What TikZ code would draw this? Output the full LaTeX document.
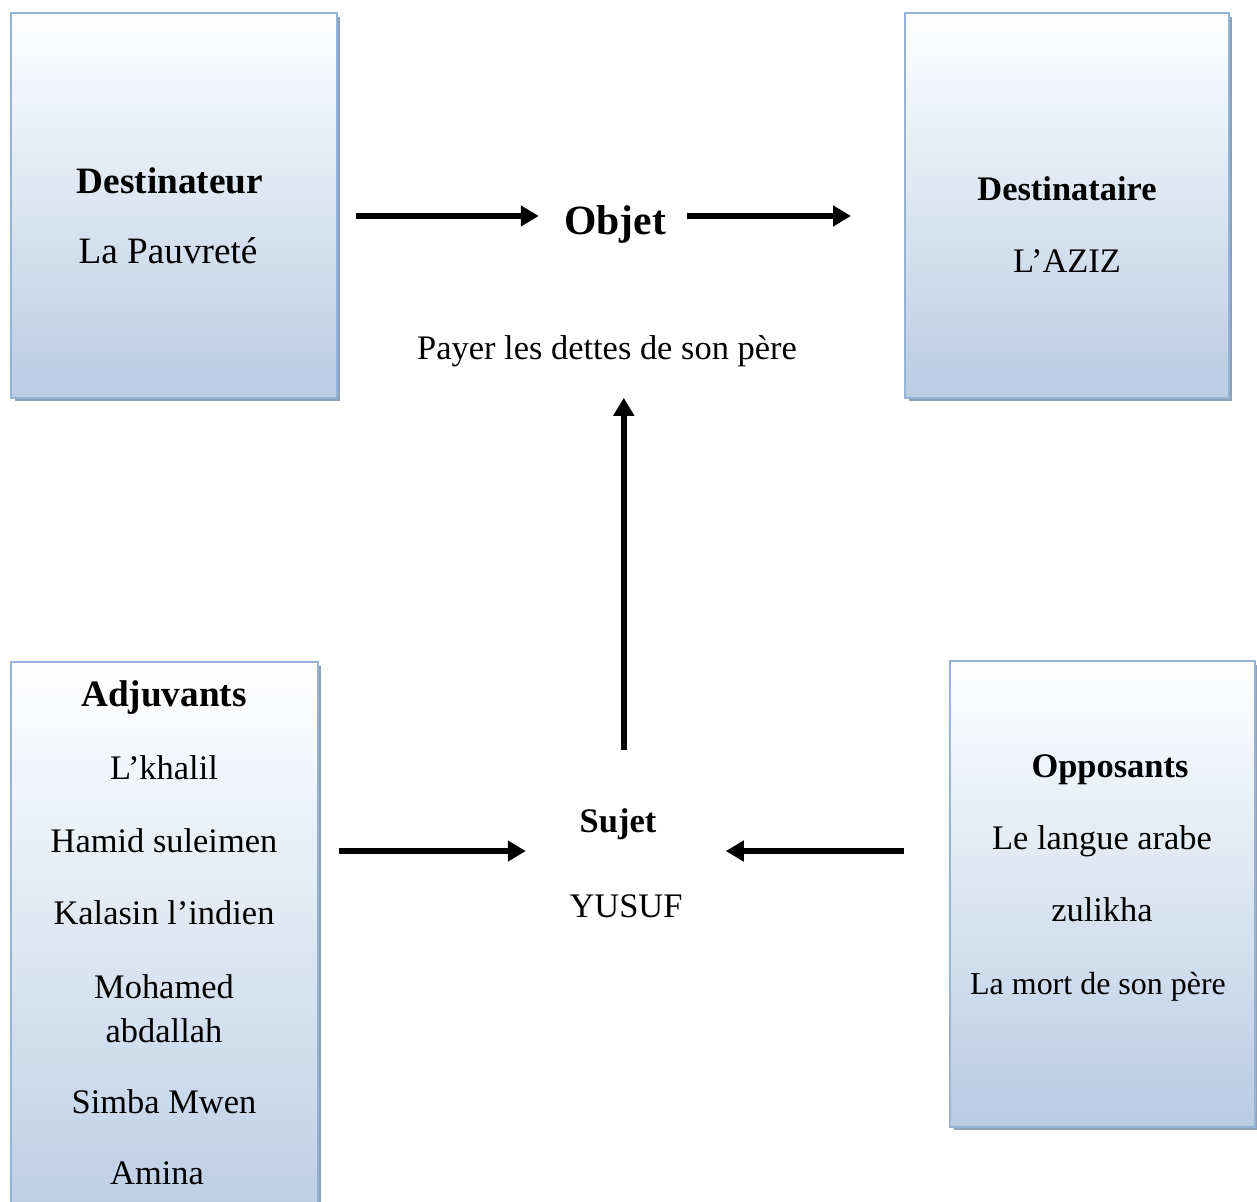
\documentclass[tikz,border=0pt]{standalone}
\usepackage{fontspec}
\setmainfont{Liberation Serif}
\usetikzlibrary{arrows.meta}
\usetikzlibrary{calc}
\usetikzlibrary{shadows}
\definecolor{asborder}{HTML}{95B3D7}
\definecolor{asfill}{HTML}{B8CCE4}
\definecolor{asshadow}{HTML}{8E9FB6}
\definecolor{asink}{HTML}{000000}
\tikzset{
  asbox/.style={
    draw=asborder, line width=1.2pt, top color=white, bottom color=asfill,
    inner sep=0pt,
    drop shadow={shadow xshift=0.07cm, shadow yshift=-0.07cm,
      fill=asshadow, opacity=1}},
  astext/.style={anchor=base, inner sep=0pt, text=asink,
    font=\fontsize{19.6}{23}\selectfont},
  ashead/.style={astext, font=\fontsize{19.6}{23}\selectfont\bfseries},
  asbig/.style={astext, font=\fontsize{21.2}{25}\selectfont},
  asarrow/.style={-{Triangle[length=0.36cm, width=0.4cm]}, draw=asink,
    line width=0.11cm},
}

\begin{document}
\begin{tikzpicture}[x=0.02cm, y=-0.02cm]
\useasboundingbox (0, 0) rectangle (1257, 1202);
\clip (0, 0) rectangle (1257, 1202);

% Sender box.
\node[asbox, minimum width=6.52cm, minimum height=7.7cm]
  (dest) at (174, 205.5) {};
\node[asbig, font=\fontsize{21.2}{25}\selectfont\bfseries]
  (destlbl) at (170, 194) {Destinateur};
\node[asbig] (destval) at (168, 264) {La Pauvreté};

% Object in the middle.
\node[astext, font=\fontsize{23.7}{28}\selectfont\bfseries]
  (objet) at (615, 235) {Objet};
\node[astext] (payer) at (607, 360) {Payer les dettes de son père};
\coordinate (objlink) at ($(objet.center)+(0, -9)$);

% Receiver box.
\node[asbox, minimum width=6.48cm, minimum height=7.7cm]
  (destin) at (1067, 205.5) {};
\node[ashead] (destinlbl) at (1067, 201) {Destinataire};
\node[astext] (destinval) at (1067, 273) {L’AZIZ};

% Helpers.
\node[asbox, minimum width=6.14cm, minimum height=11.8cm]
  (adj) at (164.5, 957) {};
\node[asbig, font=\fontsize{21.2}{25}\selectfont\bfseries]
  (adjlbl) at (164, 706) {Adjuvants};
\node[astext] (adj1) at (164, 779) {L’khalil};
\node[astext] (adj2) at (164, 852) {Hamid suleimen};
\node[astext] (adj3) at (164, 924) {Kalasin l’indien};
\node[astext] (adj4) at (164, 998) {Mohamed};
\node[astext] (adj5) at (164, 1042) {abdallah};
\node[astext] (adj6) at (164, 1113) {Simba Mwen};
\node[astext] (adj7) at (157, 1184) {Amina};

% Subject.
\node[ashead] (sujet) at (618, 832) {Sujet};
\node[astext] (yusuf) at (626, 917) {YUSUF};
\coordinate (sujetlink) at ($(sujet.base)!0.224!(yusuf.base)+(4, 0)$);

% Opponents.
\node[asbox, minimum width=6.1cm, minimum height=9.32cm]
  (opp) at (1102.5, 894) {};
\node[ashead] (opplbl) at (1110, 777) {Opposants};
\node[astext] (opp1) at (1102, 849) {Le langue arabe};
\node[astext] (opp2) at (1102, 921) {zulikha};
\node[astext, font=\fontsize{18.2}{22}\selectfont]
  (opp3) at (1098, 994) {La mort de son père};

% Arrows.
\draw[asarrow, shorten <=0.36cm, shorten >=0.5cm]
  (dest.east |- objlink) -- (objet.west |- objlink);
\draw[asarrow, shorten <=0.42cm, shorten >=1.06cm]
  (objet.east |- objlink) -- (destin.west |- objlink);
\draw[asarrow, shorten <=2.02cm, shorten >=0.6cm]
  (sujetlink) -- (sujetlink |- payer.south);
\draw[asarrow, shorten <=0.4cm, shorten >=1.96cm]
  (adj.east |- sujetlink) -- (sujetlink);
\draw[asarrow, shorten <=0.9cm, shorten >=2.04cm]
  (opp.west |- sujetlink) -- (sujetlink);

\end{tikzpicture}
\end{document}
